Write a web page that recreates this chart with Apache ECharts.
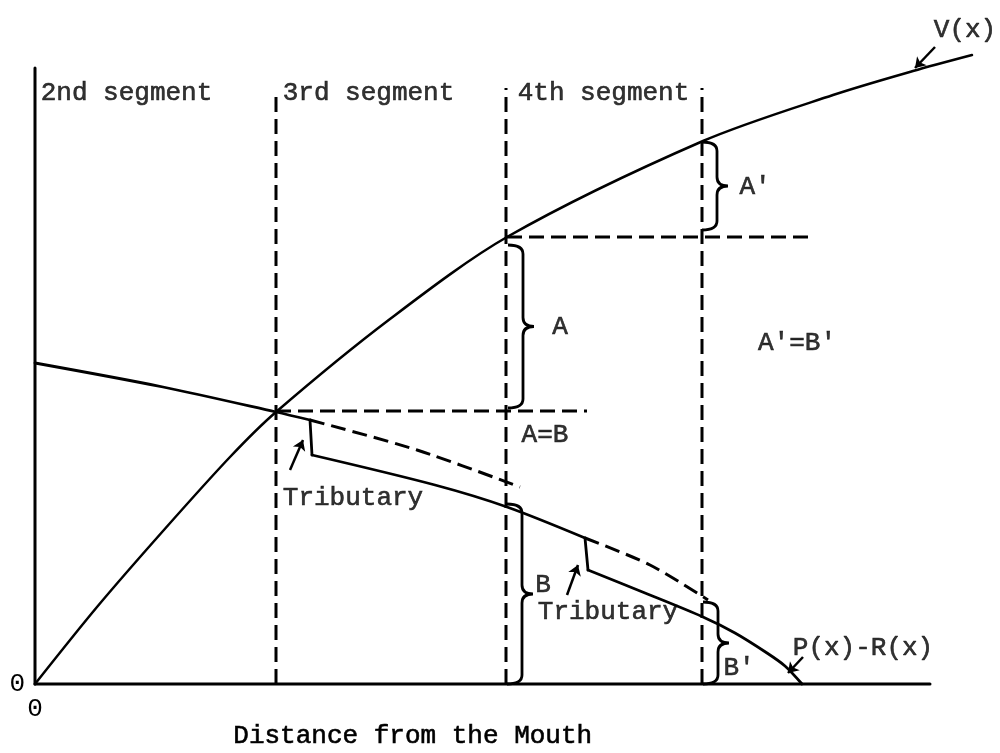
<!DOCTYPE html>
<html>
<head>
<meta charset="utf-8">
<script src="https://cdn.jsdelivr.net/npm/echarts@6/dist/echarts.min.js"></script>
<style>
  html, body { margin: 0; padding: 0; background: #fff; }
  #chart { width: 1000px; height: 753px; }
</style>
</head>
<body>
<div id="chart"></div>
<script>
// V(x) curve (x: distance, y: value)
const vCurve = [[0, 0], [6.2, 7.7], [12.8, 15.3], [19.5, 22.7], [24.1, 27.2], [35.5, 36.5],
  [47.2, 44.7], [66.8, 54.3], [79.8, 58.9], [87.8, 61.3], [93.7, 62.9]]

// P(x)-R(x): three reaches, separated by the tributary drops
const prReach1 = [[0, 32.1], [12.8, 29.7], [24.1, 27.2], [27.5, 26.4]]
const prReach2 = [[27.7, 22.9], [40, 19.9], [47.2, 17.7], [55, 14.6]]
const prReach3 = [[55.3, 11.4], [61, 9.1], [66.8, 6.7], [70, 5.1], [73.2, 3.1], [75, 1.8], [76.7, 0]]

// dashed continuation without tributaries
const prNoTrib1 = [[27.5, 26.4], [38.2, 23.4], [48.5, 19.7]]
const prNoTrib2 = [[55, 14.6], [61.5, 11.9], [67.3, 8.4]]

// segment borders: [x, yTop]
const segBorders = [[24.1, 58.9], [47.1, 59.6], [66.7, 59.6]]
// horizontal guides: [y, xFrom, xTo]
const hGuides = [[44.7, 47.2, 77.5], [27.3, 24.1, 55.2]]

// braces: [x, yTop, yBottom]
const braces = [[66.7, 54.2, 45.4], [47.3, 43.9, 27.6], [47.2, 18.0, 0], [66.8, 8.2, 0]]

// arrows: [from, to]
const arrows = [
  [[90, 63.7], [88, 61.6]],
  [[25.5, 21.4], [26.8, 24.4]],
  [[53.2, 8.9], [54.3, 11.9]],
  [[76.8, 2.7], [75.3, 1.1]]
]

const labelTexts = ['2nd segment', '3rd segment', '4th segment', 'V(x)', "A'", 'A', "A'=B'",
  'A=B', 'Tributary', 'B', 'Tributary', "B'", 'P(x)-R(x)']
const labelAt = [[9.15, 59.1], [33.35, 59.1], [56.85, 59.1], [93, 65.4], [72, 49.7], [52.5, 35.7],
  [76.2, 34.1], [51, 24.9], [31.8, 18.6], [50.8, 9.9], [57.3, 7.2], [70.4, 1.6], [82.8, 3.6]]

const axisEnds = { xMax: 89.5, yMax: 61.6 }

const FONT = 'Liberation Mono'
const INK = '#000'

const chart = echarts.init(document.getElementById('chart'))

function solid(data, width, smooth) {
  return {
    type: 'line', data, showSymbol: false, smooth: smooth || false, clip: false, silent: true,
    lineStyle: { color: INK, width: width, cap: 'round', join: 'round' }
  }
}
function dashed(data, smooth) {
  return {
    type: 'line', data, showSymbol: false, smooth: smooth || false, clip: false, silent: true,
    lineStyle: { color: INK, width: 3, type: [15, 7] }
  }
}

const series = [
  solid([[0, 0], [0, axisEnds.yMax]], 3),
  solid([[0, 0], [axisEnds.xMax, 0]], 3),
  solid(vCurve, 2.5, 0.3),
  solid(prReach1, 2.8, 0.3),
  solid(prReach2, 2.8, 0.3),
  solid(prReach3, 2.8, 0.3),
  // tributary drops join the reaches
  solid([prReach1[prReach1.length - 1], prReach2[0]], 2.8),
  solid([prReach2[prReach2.length - 1], prReach3[0]], 2.8),
  dashed(prNoTrib1, 0.3),
  dashed(prNoTrib2, 0.3)
]
segBorders.forEach(b => series.push(dashed([[b[0], 0], [b[0], b[1]]])))
hGuides.forEach(h => series.push(dashed([[h[1], h[0]], [h[2], h[0]]])))

series.push({
  type: 'custom',
  silent: true,
  clip: false,
  data: braces,
  renderItem(params, api) {
    const top = api.coord([api.value(0), api.value(1)])
    const bot = api.coord([api.value(0), api.value(2)])
    const x0 = top[0]
    const y1 = top[1]
    const y2 = bot[1]
    const ym = (y1 + y2) / 2
    const s = 15
    const w = 26
    const r = 9
    const d = `M${x0},${y1} Q${x0 + s},${y1} ${x0 + s},${y1 + r} L${x0 + s},${ym - r} ` +
      `Q${x0 + s},${ym} ${x0 + w},${ym} Q${x0 + s},${ym} ${x0 + s},${ym + r} ` +
      `L${x0 + s},${y2 - r} Q${x0 + s},${y2} ${x0},${y2}`
    return {
      type: 'path',
      shape: { pathData: d, x: x0, y: y1, width: w, height: y2 - y1 },
      style: { fill: null, stroke: INK, lineWidth: 2.8 }
    }
  }
})

series.push({
  type: 'lines',
  coordinateSystem: 'cartesian2d',
  silent: true,
  symbol: ['none', 'arrow'],
  symbolSize: 10,
  lineStyle: { color: INK, width: 2.5, opacity: 1 },
  data: arrows.map(a => ({ coords: a }))
})

series.push({
  type: 'scatter',
  silent: true,
  clip: false,
  symbolSize: 0,
  data: labelAt.map((p, i) => ({ value: p, label: { formatter: labelTexts[i] } })),
  label: {
    show: true, position: 'inside', color: INK, fontFamily: FONT, fontSize: 26,
    textBorderColor: INK, textBorderWidth: 0.6
  }
})

chart.setOption({
  animation: false,
  backgroundColor: '#fff',
  grid: { left: 35, right: 25, top: 24, bottom: 69 },
  xAxis: {
    type: 'value', min: 0, max: 94, interval: 10,
    axisLine: { show: false }, axisTick: { show: false }, splitLine: { show: false },
    axisLabel: {
      margin: 12, color: INK, fontFamily: FONT, fontSize: 26,
      formatter: v => (v === 0 ? '0' : '')
    }
  },
  yAxis: {
    type: 'value', min: 0, max: 66, interval: 10,
    axisLine: { show: false }, axisTick: { show: false }, splitLine: { show: false },
    axisLabel: {
      margin: 10, color: INK, fontFamily: FONT, fontSize: 26,
      formatter: v => (v === 0 ? '0' : '')
    }
  },
  graphic: [{
    type: 'text',
    left: 233,
    top: 723,
    style: {
      text: 'Distance from the Mouth', fill: INK, font: `26px "${FONT}"`,
      stroke: INK, lineWidth: 0.6
    }
  }],
  series
})
</script>
</body>
</html>
